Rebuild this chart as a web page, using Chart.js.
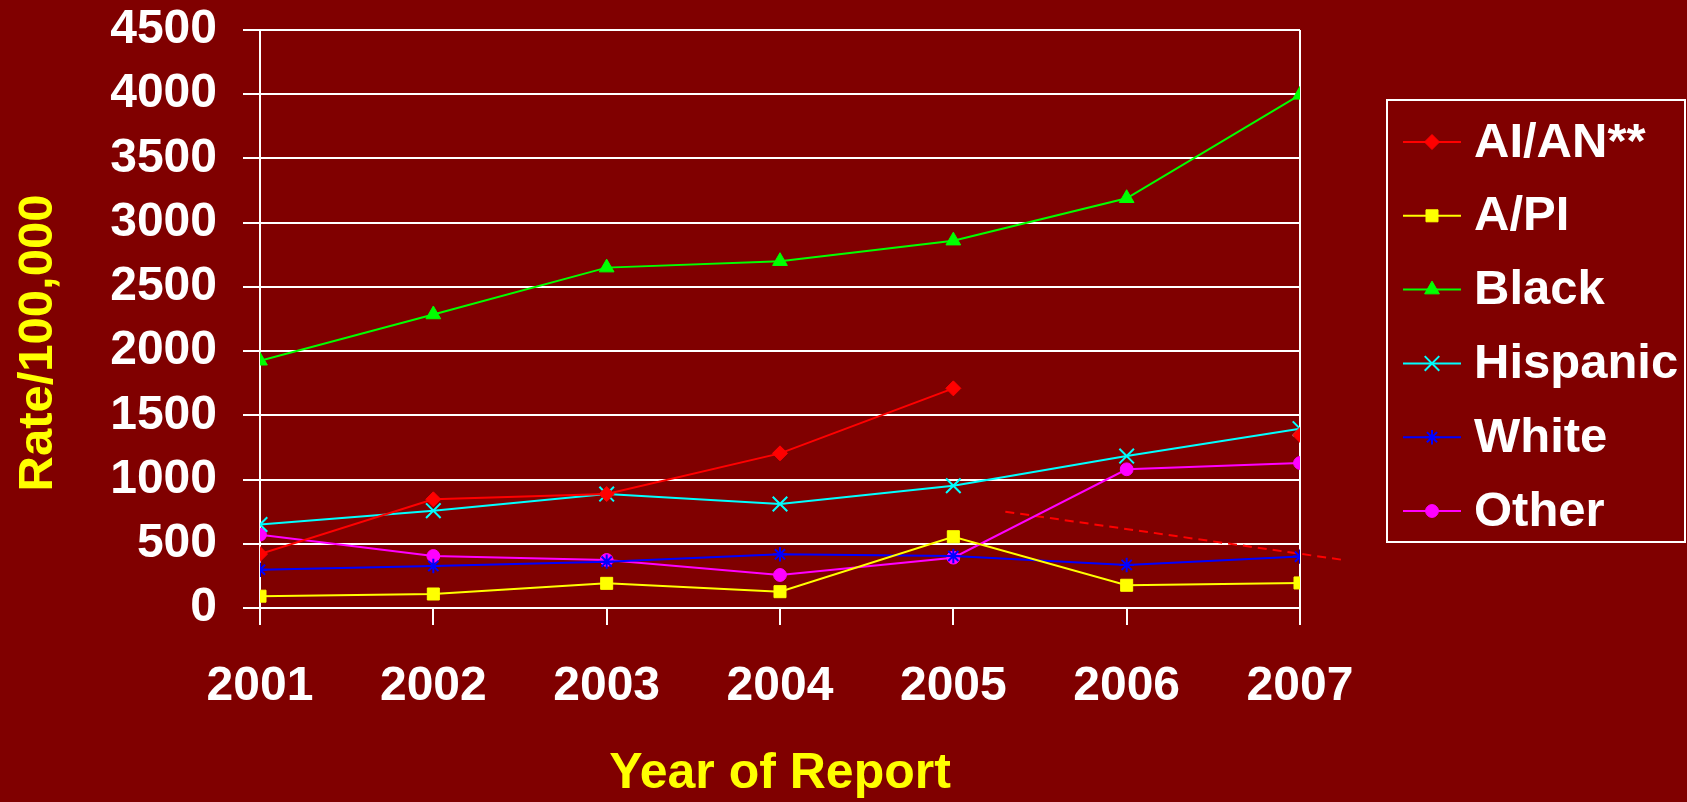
<!DOCTYPE html>
<html>
<head>
<meta charset="utf-8">
<title>Rate/100,000 by Year of Report</title>
<script src="https://cdn.jsdelivr.net/npm/chart.js@4.4.1/dist/chart.umd.min.js"></script>
<style>
  html, body { margin: 0; padding: 0; background: #800000; overflow: hidden; }
  #wrap { width: 1687px; height: 802px; }
</style>
</head>
<body>
<div id="wrap"><canvas id="myChart"></canvas></div>
<script>
const years = [2001, 2002, 2003, 2004, 2005, 2006, 2007];
const aian = [420, 846, 887, 1204, 1710, null, 1347];
const api = [92, 109, 192, 127, 555, 177, 195];
const black = [1925, 2285, 2650, 2700, 2860, 3190, 3995];
const hispanic = [650, 758, 887, 810, 952, 1183, 1396];
const white = [298, 327, 361, 418, 405, 335, 400];
const other = [571, 405, 374, 257, 392, 1080, 1129];
// dashed red line drawn past 2005
const trendYears = [2005.3, 2007.25];
const trendValues = [750, 374];

const FONT = '"Liberation Sans", Arial, sans-serif';
Chart.defaults.font.family = FONT;

function series(label, values, color, pointStyle, radius, bw) {
  return {
    label: label,
    data: years.map((x, i) => ({ x: x, y: values[i] })),
    borderColor: color,
    backgroundColor: color,
    pointBackgroundColor: color,
    pointBorderColor: color,
    borderWidth: 2,
    pointStyle: pointStyle,
    pointRadius: radius,
    pointHoverRadius: radius,
    pointBorderWidth: bw,
    tension: 0
  };
}

const datasets = [
  series('AI/AN**', aian, '#ff0000', 'rectRot', 7.5, 1),
  series('A/PI', api, '#ffff00', 'rect', 8.5, 1),
  series('Black', black, '#00ff00', 'triangle', 8.5, 1),
  series('Hispanic', hispanic, '#00ffff', 'crossRot', 10.3, 2),
  series('White', white, '#0000ff', 'star', 7.2, 2),
  series('Other', other, '#ff00ff', 'circle', 6.4, 1),
  {
    label: 'trend',
    hideInLegend: true,
    data: trendYears.map((x, i) => ({ x: x, y: trendValues[i] })),
    borderColor: '#ff0000',
    borderWidth: 2,
    borderDash: [9, 6],
    pointRadius: 0,
    clip: false
  }
];

// legend box with line + marker samples, and the rotated y title
const extras = {
  id: 'extras',
  afterDraw(chart) {
    const ctx = chart.ctx;
    ctx.save();
    ctx.strokeStyle = '#ffffff';
    ctx.lineWidth = 2;
    ctx.strokeRect(1387, 100, 298, 442);

    let y = 142;
    chart.data.datasets.forEach(ds => {
      if (ds.hideInLegend) return;
      ctx.strokeStyle = ds.borderColor;
      ctx.lineWidth = 2;
      ctx.beginPath();
      ctx.moveTo(1403, y);
      ctx.lineTo(1461, y);
      ctx.stroke();
      ctx.fillStyle = ds.backgroundColor;
      ctx.lineWidth = ds.pointBorderWidth;
      Chart.helpers.drawPoint(ctx, {
        pointStyle: ds.pointStyle,
        radius: ds.pointRadius,
        borderWidth: ds.pointBorderWidth,
        rotation: 0
      }, 1432, y);
      ctx.fillStyle = '#ffffff';
      ctx.font = 'bold 49px ' + FONT;
      ctx.textAlign = 'left';
      ctx.textBaseline = 'middle';
      ctx.fillText(ds.label, 1474, y + 1);
      y += 73.8;
    });

    ctx.translate(38, 343);
    ctx.rotate(-Math.PI / 2);
    ctx.fillStyle = '#ffff00';
    ctx.font = 'bold 49px ' + FONT;
    ctx.textAlign = 'center';
    ctx.textBaseline = 'middle';
    ctx.fillText('Rate/100,000', 0, 0);
    ctx.restore();
  }
};

new Chart(document.getElementById('myChart'), {
  type: 'line',
  data: { datasets: datasets },
  plugins: [extras],
  options: {
    responsive: true,
    maintainAspectRatio: false,
    animation: false,
    events: [],
    layout: { padding: { top: 30, right: 387, left: 0, bottom: 0 } },
    plugins: {
      legend: { display: false },
      tooltip: { enabled: false }
    },
    scales: {
      x: {
        type: 'linear',
        min: 2001,
        max: 2007,
        afterFit: s => { s.height = 194; },
        ticks: {
          stepSize: 1,
          color: '#ffffff',
          padding: 33,
          font: { size: 48, weight: 'bold' },
          callback: v => String(v)
        },
        grid: {
          color: c => (c.tick && c.tick.value === 2007 ? '#ffffff' : 'rgba(0,0,0,0)'),
          tickColor: '#ffffff',
          lineWidth: 2,
          tickLength: 17
        },
        border: { display: true, color: '#ffffff', width: 2 },
        title: {
          display: true,
          text: 'Year of Report',
          color: '#ffff00',
          font: { size: 50, weight: 'bold', lineHeight: 1 },
          padding: { top: 0, bottom: 3 }
        }
      },
      y: {
        min: 0,
        max: 4500,
        afterFit: s => { s.width = 260; s.paddingTop = 0; s.paddingBottom = 0; },
        ticks: {
          stepSize: 500,
          color: '#ffffff',
          padding: 26,
          font: { size: 48, weight: 'bold' },
          callback: v => String(v)
        },
        grid: { color: '#ffffff', lineWidth: 2, tickLength: 17 },
        border: { display: true, color: '#ffffff', width: 2 }
      }
    }
  }
});
</script>
</body>
</html>
